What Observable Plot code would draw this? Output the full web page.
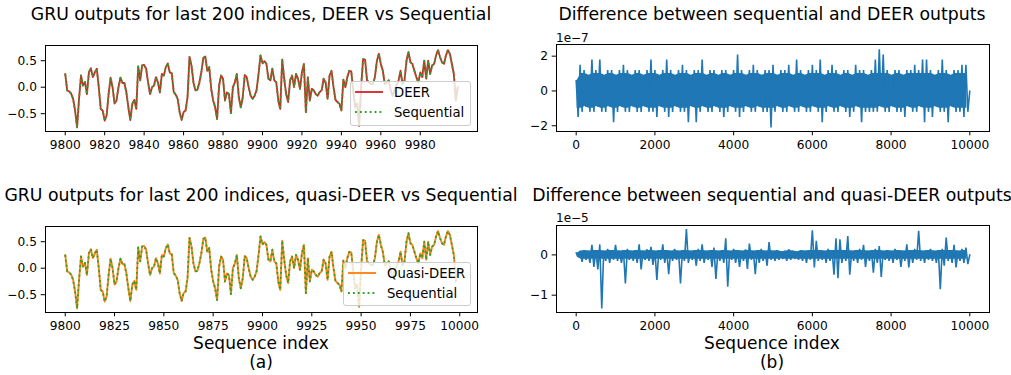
<!DOCTYPE html>
<html><head><meta charset="utf-8">
<script src="https://cdn.jsdelivr.net/npm/d3@7"></script>
<script src="https://cdn.jsdelivr.net/npm/@observablehq/plot@0.6"></script>
<style>
body{margin:0;background:#fff;}
#fig{position:relative;width:1011px;height:375px;font-family:"DejaVu Sans",sans-serif;color:#000;overflow:hidden;background:#fff}
.abs{position:absolute;white-space:nowrap;line-height:1}
.c{transform:translate(-50%,-50%)}
.title{font-size:17.3px}
.xl{font-size:17px}
.off{font-size:12px}
.legend{position:absolute;background:rgba(255,255,255,0.8);border:1px solid #ccc;border-radius:3px;box-sizing:border-box;font-size:13.2px}
.legend .row{position:absolute;left:0;height:16px;display:flex;align-items:center}
.legend svg{display:block}
.plot{position:absolute}
</style></head>
<body><div id="fig"></div>
<script>
// ---------- data ----------
const gruIndex = d3.range(9800, 10000);
const gruOutput = [
 0.25,-0.06,-0.08,-0.12,-0.22,-0.44,-0.76,-0.22,0.22,0.03,
 0.10,-0.13,0.28,0.36,0.19,0.28,0.35,0.00,-0.41,-0.44,
 -0.63,-0.53,-0.13,0.18,0.00,-0.31,-0.25,0.00,0.18,0.08,
 0.08,-0.10,-0.38,-0.62,-0.31,-0.24,-0.41,0.39,0.13,0.41,
 0.42,0.35,0.09,-0.13,0.00,0.03,0.19,0.09,-0.10,0.25,
 0.22,0.38,0.45,0.28,0.26,-0.09,-0.14,-0.22,-0.47,-0.62,
 -0.47,-0.44,-0.19,0.57,0.41,0.09,-0.06,-0.05,0.09,0.28,
 0.55,0.58,0.31,0.38,-0.03,-0.25,-0.38,-0.60,0.03,0.22,
 0.16,-0.25,-0.10,-0.13,-0.49,0.00,0.09,0.25,-0.19,-0.38,
 -0.19,0.23,0.19,0.00,-0.16,-0.22,-0.16,-0.06,0.25,0.60,
 0.45,0.49,0.44,0.16,0.13,0.35,0.13,0.09,-0.25,-0.41,
 0.52,0.16,-0.13,-0.28,0.13,0.22,0.00,0.25,0.16,-0.03,
 0.28,0.44,-0.47,0.19,-0.25,-0.03,-0.06,-0.13,-0.16,-0.09,
 -0.06,0.16,0.09,-0.22,0.22,0.31,0.00,-0.24,-0.28,-0.31,
 -0.44,0.14,0.00,0.19,0.31,0.30,-0.06,-0.38,-0.31,-0.73,
 0.00,0.53,0.52,0.13,0.09,0.06,0.06,0.19,0.50,0.63,
 0.44,0.31,0.06,0.09,0.13,-0.06,-0.16,-0.05,0.03,0.13,
 0.31,0.06,0.13,0.50,0.66,0.47,0.44,0.31,0.19,0.09,
 0.28,0.19,0.50,0.16,0.50,0.25,0.41,0.44,0.60,0.70,
 0.57,0.47,0.44,0.60,0.70,0.63,0.44,0.25,-0.25,0.00
];
const topXTicks = [9800,9820,9840,9860,9880,9900,9920,9940,9960,9980];
const botXTicks = [9800,9825,9850,9875,9900,9925,9950,9975,10000];
const gruYTicks = [-0.5, 0, 0.5];

// Difference series, read as per-100-index max / min envelopes (units shown by the offset label)
const diffStep = 100;
const deerDiffHigh = [
 0.6,1.5,1.2,0.9,1.8,1.2,1.8,0.9,1.2,1.2, 0.9,1.2,1.5,1.2,0.9,1.2,1.2,0.9,1.2,1.8,
 1.2,0.9,1.2,1.8,1.2,0.9,1.2,1.5,1.2,0.9, 1.2,1.2,1.8,0.9,1.2,1.2,0.9,1.2,1.2,0.9,
 1.2,2.1,1.2,0.9,1.2,1.5,1.2,0.9,1.2,1.2, 1.5,0.9,1.2,1.2,1.5,0.9,1.8,1.2,0.9,1.2,
 1.5,1.2,1.8,0.9,1.2,1.5,1.2,0.9,1.2,1.2, 0.9,1.5,1.2,1.2,0.9,1.2,1.8,2.4,2.1,1.2,
 0.9,1.2,1.2,0.9,1.2,1.2,1.5,1.2,1.8,1.8, 1.2,0.9,1.2,1.8,1.2,0.9,1.2,1.2,1.5,1.5
];
const deerDiffLow = [
 -1.5,-1.2,-0.9,-1.2,-1.2,-0.9,-1.2,-1.2,-0.9,-1.8, -1.2,-0.9,-1.2,-1.2,-0.9,-1.2,-1.2,-0.9,-1.2,-1.2,
 -1.5,-0.9,-1.2,-1.5,-1.2,-0.9,-1.2,-1.2,-1.8,-0.9, -1.8,-1.2,-0.9,-1.2,-1.2,-0.9,-1.2,-1.5,-1.2,-0.9,
 -1.2,-1.5,-1.2,-0.9,-1.2,-1.2,-0.9,-1.2,-1.2,-2.1, -1.2,-0.9,-1.2,-1.2,-0.9,-1.2,-1.2,-0.9,-1.2,-1.2,
 -0.9,-1.2,-1.8,-1.2,-0.9,-1.2,-1.2,-0.9,-1.2,-1.5, -1.2,-0.9,-1.8,-1.2,-1.2,-1.2,-1.2,-0.9,-1.2,-1.2,
 -0.9,-1.2,-1.2,-1.5,-0.9,-1.2,-1.2,-0.9,-1.8,-1.2, -1.5,-0.9,-1.2,-1.2,-1.8,-0.9,-1.2,-1.2,-1.5,-1.2
];
const deerDiffCore = 1.0;   // dense central band of the trace
const quasiDiffHigh = [
 0.05,0.10,0.12,0.10,0.25,0.12,0.26,0.10,0.15,0.12, 0.25,0.10,0.12,0.15,0.10,0.12,0.26,0.10,0.14,0.20,
 0.10,0.12,0.26,0.12,0.10,0.15,0.10,0.12,0.64,0.10, 0.12,0.15,0.26,0.10,0.12,0.18,0.10,0.12,0.41,0.10,
 0.15,0.12,0.10,0.14,0.28,0.10,0.12,0.15,0.10,0.32, 0.10,0.12,0.08,0.10,0.14,0.10,0.08,0.12,0.10,0.12,
 0.61,0.35,0.12,0.10,0.15,0.12,0.41,0.39,0.12,0.47, 0.10,0.12,0.15,0.25,0.10,0.12,0.15,0.22,0.10,0.12,
 0.10,0.15,0.12,0.10,0.26,0.12,0.15,0.60,0.10,0.12, 0.15,0.10,0.12,0.15,0.43,0.12,0.25,0.10,0.15,0.18
];
const quasiDiffLow = [
 -0.05,-0.17,-0.12,-0.20,-0.30,-0.36,-1.33,-0.15,-0.20,-0.12, -0.15,-0.20,-0.71,-0.12,-0.15,-0.20,-0.36,-0.12,-0.15,-0.25,
 -0.62,-0.12,-0.20,-0.48,-0.15,-0.12,-0.71,-0.15,-0.20,-0.12, -0.27,-0.15,-0.20,-0.12,-0.30,-0.60,-0.15,-0.20,-0.79,-0.12,
 -0.20,-0.30,-0.15,-0.35,-0.12,-0.48,-0.20,-0.15,-0.27,-0.12, -0.15,-0.12,-0.10,-0.15,-0.12,-0.10,-0.12,-0.15,-0.20,-0.12,
 -0.31,-0.15,-0.12,-0.20,-0.15,-0.49,-0.58,-0.20,-0.15,-0.49, -0.15,-0.20,-0.12,-0.30,-0.15,-0.44,-0.20,-0.55,-0.12,-0.15,
 -0.20,-0.12,-0.30,-0.15,-0.31,-0.20,-0.12,-0.15,-0.20,-0.12, -0.15,-0.20,-0.85,-0.27,-0.15,-0.20,-0.31,-0.15,-0.20,-0.23
];
const quasiDiffCore = 0.11;
const diffXTicks = [0,2000,4000,6000,8000,10000];
const deerDiffYTicks = [-2, 0, 2];
const quasiDiffYTicks = [-1, 0];

// ---------- helpers ----------
const C = {red:"#d62728", green:"#2ca02c", orange:"#ff7f0e", blue:"#1f77b4"};
const LW = 1.85;
const fig = document.getElementById("fig");
const gruRows = gruIndex.map((x, i) => ({x, y: gruOutput[i]}));
function zig(hi, lo) {
  const pts = [];
  hi.forEach((h, k) => { pts.push({x: k*diffStep, y: h}); pts.push({x: k*diffStep + diffStep/2, y: lo[k]}); });
  pts.push({x: 9999, y: 0});
  return pts;
}
function band(hi, lo, core) {
  return hi.map((h, k) => ({x: k*diffStep + diffStep/4, hi: Math.min(h, core), lo: Math.max(lo[k], -core)}));
}
const baseStyle = {fontFamily:"DejaVu Sans", fontSize:"12.2px", background:"transparent", overflow:"visible", color:"#000"};
function place(el, left, top) { el.classList.add("plot"); el.style.left = left+"px"; el.style.top = top+"px"; fig.appendChild(el); }
function text(str, x, y, cls) { const d = document.createElement("div"); d.className = "abs " + cls; d.style.left = x+"px"; d.style.top = y+"px"; d.textContent = str; fig.appendChild(d); return d; }

function gruPlot(xTicks, mainColor) {
  return Plot.plot({
    width: 500, height: 125, marginLeft: 45, marginRight: 23, marginTop: 10, marginBottom: 29,
    style: baseStyle,
    x: {domain: [9790, 10009], ticks: xTicks, tickFormat: d => String(d), tickSize: 4.3, tickPadding: 4.5, label: null},
    y: {domain: [-0.836, 0.787], ticks: gruYTicks, tickFormat: d3.format(".1f"), tickSize: 4.3, tickPadding: 4.3, label: null},
    marks: [
      Plot.line(gruRows, {x: "x", y: "y", stroke: mainColor, strokeWidth: LW}),
      Plot.line(gruRows, {x: "x", y: "y", stroke: C.green, strokeWidth: LW, strokeDasharray: "1.85,3.05", strokeLinecap: "butt"}),
      Plot.frame({stroke: "#000", strokeWidth: 1})
    ]
  });
}
function diffPlot(hi, lo, core, yDomain, yTicks) {
  return Plot.plot({
    width: 491, height: 125, marginLeft: 36, marginRight: 22, marginTop: 9, marginBottom: 29,
    style: baseStyle,
    x: {domain: [-500, 10500], ticks: diffXTicks, tickFormat: d => String(d), tickSize: 4.3, tickPadding: 4.5, label: null},
    y: {domain: yDomain, ticks: yTicks, tickFormat: d3.format("d"), tickSize: 4.3, tickPadding: 4.3, label: null},
    marks: [
      Plot.areaY(band(hi, lo, core), {x: "x", y1: "lo", y2: "hi", fill: C.blue, curve: "linear"}),
      Plot.line(zig(hi, lo), {x: "x", y: "y", stroke: C.blue, strokeWidth: 1.6, strokeLinejoin: "miter"}),
      Plot.frame({stroke: "#000", strokeWidth: 1})
    ]
  });
}
function legend(left, top, w, h, items) {
  const box = document.createElement("div");
  box.className = "legend";
  Object.assign(box.style, {left: left+"px", top: top+"px", width: w+"px", height: h+"px"});
  items.forEach((it, i) => {
    const row = document.createElement("div");
    row.className = "row";
    row.style.top = (it.y - top - 9) + "px";
    row.innerHTML = `<svg width="40" height="16"><line x1="4" x2="32" y1="8" y2="8" stroke="${it.color}" stroke-width="${LW}" ${it.dash ? `stroke-dasharray="1.85,3.05"` : ""}/></svg><span style="margin-left:3px">${it.label}</span>`;
    box.appendChild(row);
  });
  fig.appendChild(box);
}

// ---------- panels ----------
place(gruPlot(topXTicks, C.red), 0, 35);
place(gruPlot(botXTicks, C.orange), 0, 216);
place(diffPlot(deerDiffHigh, deerDiffLow, deerDiffCore, [-2.33, 2.67], deerDiffYTicks), 520, 35);
place(diffPlot(quasiDiffHigh, quasiDiffLow, quasiDiffCore, [-1.43, 0.73], quasiDiffYTicks), 520, 216);

legend(350, 81, 121, 45, [
  {label: "DEER", color: C.red, y: 92},
  {label: "Sequential", color: C.green, dash: true, y: 112}
]);
legend(343, 262, 128, 44, [
  {label: "Quasi-DEER", color: C.orange, y: 273},
  {label: "Sequential", color: C.green, dash: true, y: 293}
]);

// ---------- texts ----------
text("GRU outputs for last 200 indices, DEER vs Sequential", 261, 15, "title c");
text("Difference between sequential and DEER outputs", 772, 15, "title c");
text("GRU outputs for last 200 indices, quasi-DEER vs Sequential", 261, 196, "title c");
text("Difference between sequential and quasi-DEER outputs", 772, 196, "title c");
text("1e\u22127", 556, 32, "off");
text("1e\u22125", 556, 212, "off");
text("Sequence index", 261, 343, "xl c");
text("(a)", 261, 362, "xl c");
text("Sequence index", 772, 343, "xl c");
text("(b)", 772, 362, "xl c");
</script>
</body></html>
